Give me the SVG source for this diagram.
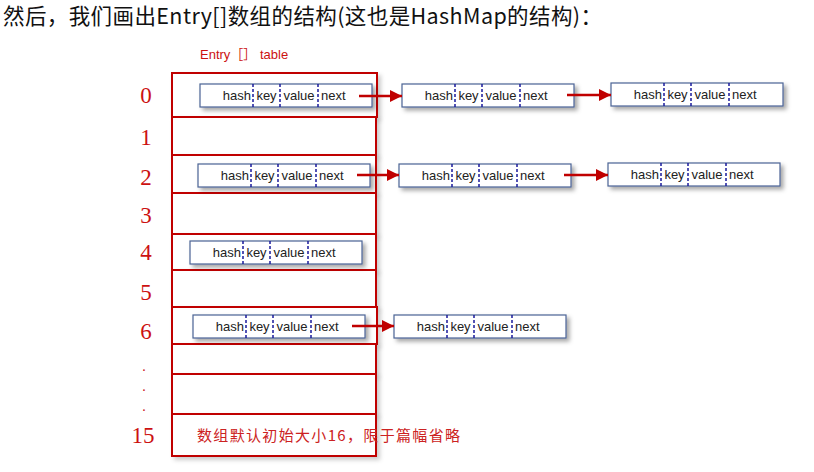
<svg xmlns="http://www.w3.org/2000/svg" width="814" height="472" viewBox="0 0 814 472">
<defs>
<filter id="sh" x="-10%" y="-30%" width="130%" height="180%">
<feDropShadow dx="3" dy="3" stdDeviation="2" flood-color="#000" flood-opacity="0.35"/>
</filter>
<filter id="sh2" x="-10%" y="-30%" width="130%" height="180%">
<feDropShadow dx="3" dy="3" stdDeviation="2" flood-color="#000" flood-opacity="0.2"/>
</filter>
<marker id="ah" viewBox="0 0 12 12" refX="12" refY="6" markerWidth="12" markerHeight="12" markerUnits="userSpaceOnUse" orient="auto">
<path d="M0,0 L12,6 L0,12 z" fill="#c00000"/>
</marker>
<g id="entry">
<rect x="0" y="0" width="172" height="23" fill="#fff" stroke="#4a6294" stroke-width="1.2" filter="url(#sh)"/>
<line x1="53" y1="0" x2="53" y2="23" class="dv"/>
<line x1="80" y1="0" x2="80" y2="23" class="dv"/>
<line x1="118" y1="0" x2="118" y2="23" class="dv"/>
<text x="51" y="16" text-anchor="end" class="et">hash</text>
<text x="66.5" y="16" text-anchor="middle" class="et">key</text>
<text x="99" y="16" text-anchor="middle" class="et">value</text>
<text x="121" y="16" class="et">next</text>
</g>
</defs>
<style>
.dv{stroke:#1a1a9c;stroke-width:1.5;stroke-dasharray:3,2}
.et{font-family:"Liberation Sans",Arial,sans-serif;font-size:13px;fill:#222}
.row{fill:#fff;stroke:#c00000;stroke-width:2}
.num{font-family:"Liberation Serif","Times New Roman",serif;font-size:23px;fill:#cc1111;text-anchor:middle}
.dot{font-family:"Liberation Serif","Times New Roman",serif;font-size:14px;fill:#cc1111;text-anchor:middle}
.arr{stroke:#c00000;stroke-width:2.5;fill:none}
.ttl{font-family:"Noto Sans CJK SC","Microsoft YaHei",sans-serif;font-size:21.5px;letter-spacing:0.4px;fill:#111}
</style>
<rect width="814" height="472" fill="#fff"/>
<text x="3" y="23.5" class="ttl">然后，我们画出Entry[]数组的结构(这也是HashMap的结构)：</text>
<text x="200" y="59" font-family="'Liberation Sans','Noto Sans CJK SC',sans-serif" font-size="13" fill="#cc1111">Entry［］ table</text>
<g id="table">
<rect class="row" x="172" y="73" width="205" height="44" filter="url(#sh2)"/>
<rect class="row" x="172" y="117" width="204" height="38" filter="url(#sh2)"/>
<rect class="row" x="172" y="155" width="204" height="38" filter="url(#sh2)"/>
<rect class="row" x="172" y="193" width="204" height="41" filter="url(#sh2)"/>
<rect class="row" x="172" y="234" width="204" height="36" filter="url(#sh2)"/>
<rect class="row" x="172" y="270" width="204" height="37" filter="url(#sh2)"/>
<rect class="row" x="172" y="307" width="205" height="37" filter="url(#sh2)"/>
<rect class="row" x="172" y="344" width="204" height="30" filter="url(#sh2)"/>
<rect class="row" x="172" y="374" width="204" height="40" filter="url(#sh2)"/>
<rect class="row" x="172" y="414" width="204" height="42" filter="url(#sh2)"/>
</g>
<g id="labels">
<text class="num" x="146" y="103">0</text>
<text class="num" x="146" y="145">1</text>
<text class="num" x="146" y="185">2</text>
<text class="num" x="146" y="223">3</text>
<text class="num" x="146" y="260">4</text>
<text class="num" x="146" y="300">5</text>
<text class="num" x="146" y="339">6</text>
<text class="dot" x="144" y="371">.</text>
<text class="dot" x="144" y="391">.</text>
<text class="dot" x="144" y="411">.</text>
<text class="num" x="143" y="443">15</text>
<text x="197" y="441" font-family="'Noto Sans CJK SC',sans-serif" font-size="15" fill="#cc2222" textLength="263">数组默认初始大小16，限于篇幅省略</text>
</g>
<g id="n0"><use href="#entry" x="200" y="84"/></g>
<g id="n0b"><use href="#entry" x="402" y="84"/></g>
<g id="n0c"><use href="#entry" x="611" y="83"/></g>
<g id="n2"><use href="#entry" x="198" y="164"/></g>
<g id="n2b"><use href="#entry" x="399" y="164"/></g>
<g id="n2c"><use href="#entry" x="608" y="163"/></g>
<g id="n4"><use href="#entry" x="190" y="241"/></g>
<g id="n6"><use href="#entry" x="193" y="315"/></g>
<g id="n6b"><use href="#entry" x="394" y="315"/></g>
<g id="connectors">
<line class="arr" x1="359" y1="96" x2="402" y2="96" marker-end="url(#ah)"/>
<line class="arr" x1="567" y1="95" x2="611" y2="95" marker-end="url(#ah)"/>
<line class="arr" x1="357" y1="175" x2="399" y2="175" marker-end="url(#ah)"/>
<line class="arr" x1="564" y1="175" x2="608" y2="175" marker-end="url(#ah)"/>
<line class="arr" x1="352" y1="326" x2="394" y2="326" marker-end="url(#ah)"/>
</g>
</svg>
